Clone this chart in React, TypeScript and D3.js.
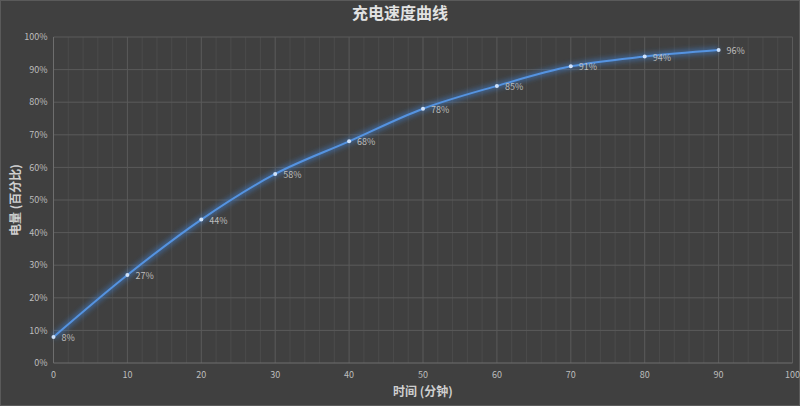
import * as d3 from "d3";
import { useEffect, useRef } from "react";

const minutes = [0, 10, 20, 30, 40, 50, 60, 70, 80, 90];
const charge = [8, 27, 44, 58, 68, 78, 85, 91, 94, 96];
const xTicks = [0, 10, 20, 30, 40, 50, 60, 70, 80, 90, 100];
const yTicks = [0, 10, 20, 30, 40, 50, 60, 70, 80, 90, 100];

const title = "充电速度曲线";
const xTitle = "时间 (分钟)";
const yTitle = "电量 (百分比)";

export default function App() {
  const ref = useRef<SVGSVGElement | null>(null);
  const width = 800;
  const height = 406;

  useEffect(() => {
    const svg = d3.select(ref.current);
    svg.selectAll("*").remove();

    const font = "'Noto Sans CJK SC', 'Noto Sans', sans-serif";
    const m = { left: 53.5, right: 7.5, top: 37, bottom: 43 };

    const x = d3.scaleLinear().domain([0, 100]).range([m.left, width - m.right]);
    const y = d3.scaleLinear().domain([0, 100]).range([height - m.bottom, m.top]);

    svg
      .append("rect")
      .attr("width", width)
      .attr("height", height)
      .attr("fill", "#404040");
    svg
      .append("rect")
      .attr("x", 0.5)
      .attr("y", 0.5)
      .attr("width", width - 1)
      .attr("height", height - 1)
      .attr("fill", "none")
      .attr("stroke", "#5a5a5a");

    const defs = svg.append("defs");
    const glow = defs
      .append("filter")
      .attr("id", "glow")
      .attr("x", "-10%")
      .attr("y", "-10%")
      .attr("width", "120%")
      .attr("height", "120%");
    glow.append("feGaussianBlur").attr("stdDeviation", 2.5);

    // minor vertical grid
    const minor = d3.range(0, 101, 2).filter((v) => v % 10 !== 0);
    svg
      .append("g")
      .selectAll("line")
      .data(minor)
      .join("line")
      .attr("x1", (d) => x(d))
      .attr("x2", (d) => x(d))
      .attr("y1", y(100))
      .attr("y2", y(0))
      .attr("stroke", "#4b4b4b")
      .attr("stroke-width", 1);

    // major grid
    svg
      .append("g")
      .selectAll("line")
      .data(xTicks.slice(1))
      .join("line")
      .attr("x1", (d) => x(d))
      .attr("x2", (d) => x(d))
      .attr("y1", y(100))
      .attr("y2", y(0))
      .attr("stroke", "#5a5a5a");
    svg
      .append("g")
      .selectAll("line")
      .data(yTicks.slice(1))
      .join("line")
      .attr("x1", x(0))
      .attr("x2", x(100))
      .attr("y1", (d) => y(d))
      .attr("y2", (d) => y(d))
      .attr("stroke", "#5a5a5a");

    // axis lines
    svg
      .append("line")
      .attr("x1", x(0))
      .attr("x2", x(0))
      .attr("y1", y(100))
      .attr("y2", y(0))
      .attr("stroke", "#6e6e6e");
    svg
      .append("line")
      .attr("x1", x(0))
      .attr("x2", x(100))
      .attr("y1", y(0))
      .attr("y2", y(0))
      .attr("stroke", "#6e6e6e");

    // tick labels
    svg
      .append("g")
      .selectAll("text")
      .data(yTicks)
      .join("text")
      .attr("x", x(0) - 6)
      .attr("y", (d) => y(d))
      .attr("dy", "0.35em")
      .attr("text-anchor", "end")
      .attr("fill", "#bdbdbd")
      .style("font", `9px ${font}`)
      .text((d) => `${d}%`);
    svg
      .append("g")
      .selectAll("text")
      .data(xTicks)
      .join("text")
      .attr("x", (d) => x(d))
      .attr("y", y(0) + 12)
      .attr("dy", "0.35em")
      .attr("text-anchor", "middle")
      .attr("fill", "#bdbdbd")
      .style("font", `9px ${font}`)
      .text((d) => d);

    // titles
    svg
      .append("text")
      .attr("x", width / 2)
      .attr("y", 13)
      .attr("dy", "0.35em")
      .attr("text-anchor", "middle")
      .attr("fill", "#e2e2e2")
      .style("font", `bold 16px ${font}`)
      .text(title);
    svg
      .append("text")
      .attr("x", (x(0) + x(100)) / 2)
      .attr("y", 392)
      .attr("dy", "0.35em")
      .attr("text-anchor", "middle")
      .attr("fill", "#cfcfcf")
      .style("font", `bold 12px ${font}`)
      .text(xTitle);
    svg
      .append("text")
      .attr("transform", `translate(16, ${(y(0) + y(100)) / 2}) rotate(-90)`)
      .attr("dy", "0.35em")
      .attr("text-anchor", "middle")
      .attr("fill", "#cfcfcf")
      .style("font", `bold 12px ${font}`)
      .text(yTitle);

    const data = minutes.map((m, i) => ({ t: m, v: charge[i] }));
    const line = d3
      .line<{ t: number; v: number }>()
      .x((d) => x(d.t))
      .y((d) => y(d.v))
      .curve(d3.curveCatmullRom.alpha(0));

    svg
      .append("path")
      .datum(data)
      .attr("d", line)
      .attr("fill", "none")
      .attr("stroke", "#3f7fd0")
      .attr("stroke-width", 6)
      .attr("stroke-opacity", 0.55)
      .attr("filter", "url(#glow)");
    svg
      .append("path")
      .datum(data)
      .attr("d", line)
      .attr("fill", "none")
      .attr("stroke", "#5593e0")
      .attr("stroke-width", 2);

    svg
      .append("g")
      .selectAll("circle")
      .data(data)
      .join("circle")
      .attr("cx", (d) => x(d.t))
      .attr("cy", (d) => y(d.v))
      .attr("r", 2)
      .attr("fill", "#cfe2fb");

    svg
      .append("g")
      .selectAll("text")
      .data(data)
      .join("text")
      .attr("x", (d) => x(d.t) + 8)
      .attr("y", (d) => y(d.v) + 1)
      .attr("dy", "0.35em")
      .attr("fill", "#bdbdbd")
      .style("font", `9px ${font}`)
      .text((d) => `${d.v}%`);
  }, []);

  return (
    <div style={{ position: "fixed", left: 0, top: 0 }}>
      <svg ref={ref} width={width} height={height}></svg>
    </div>
  );
}
